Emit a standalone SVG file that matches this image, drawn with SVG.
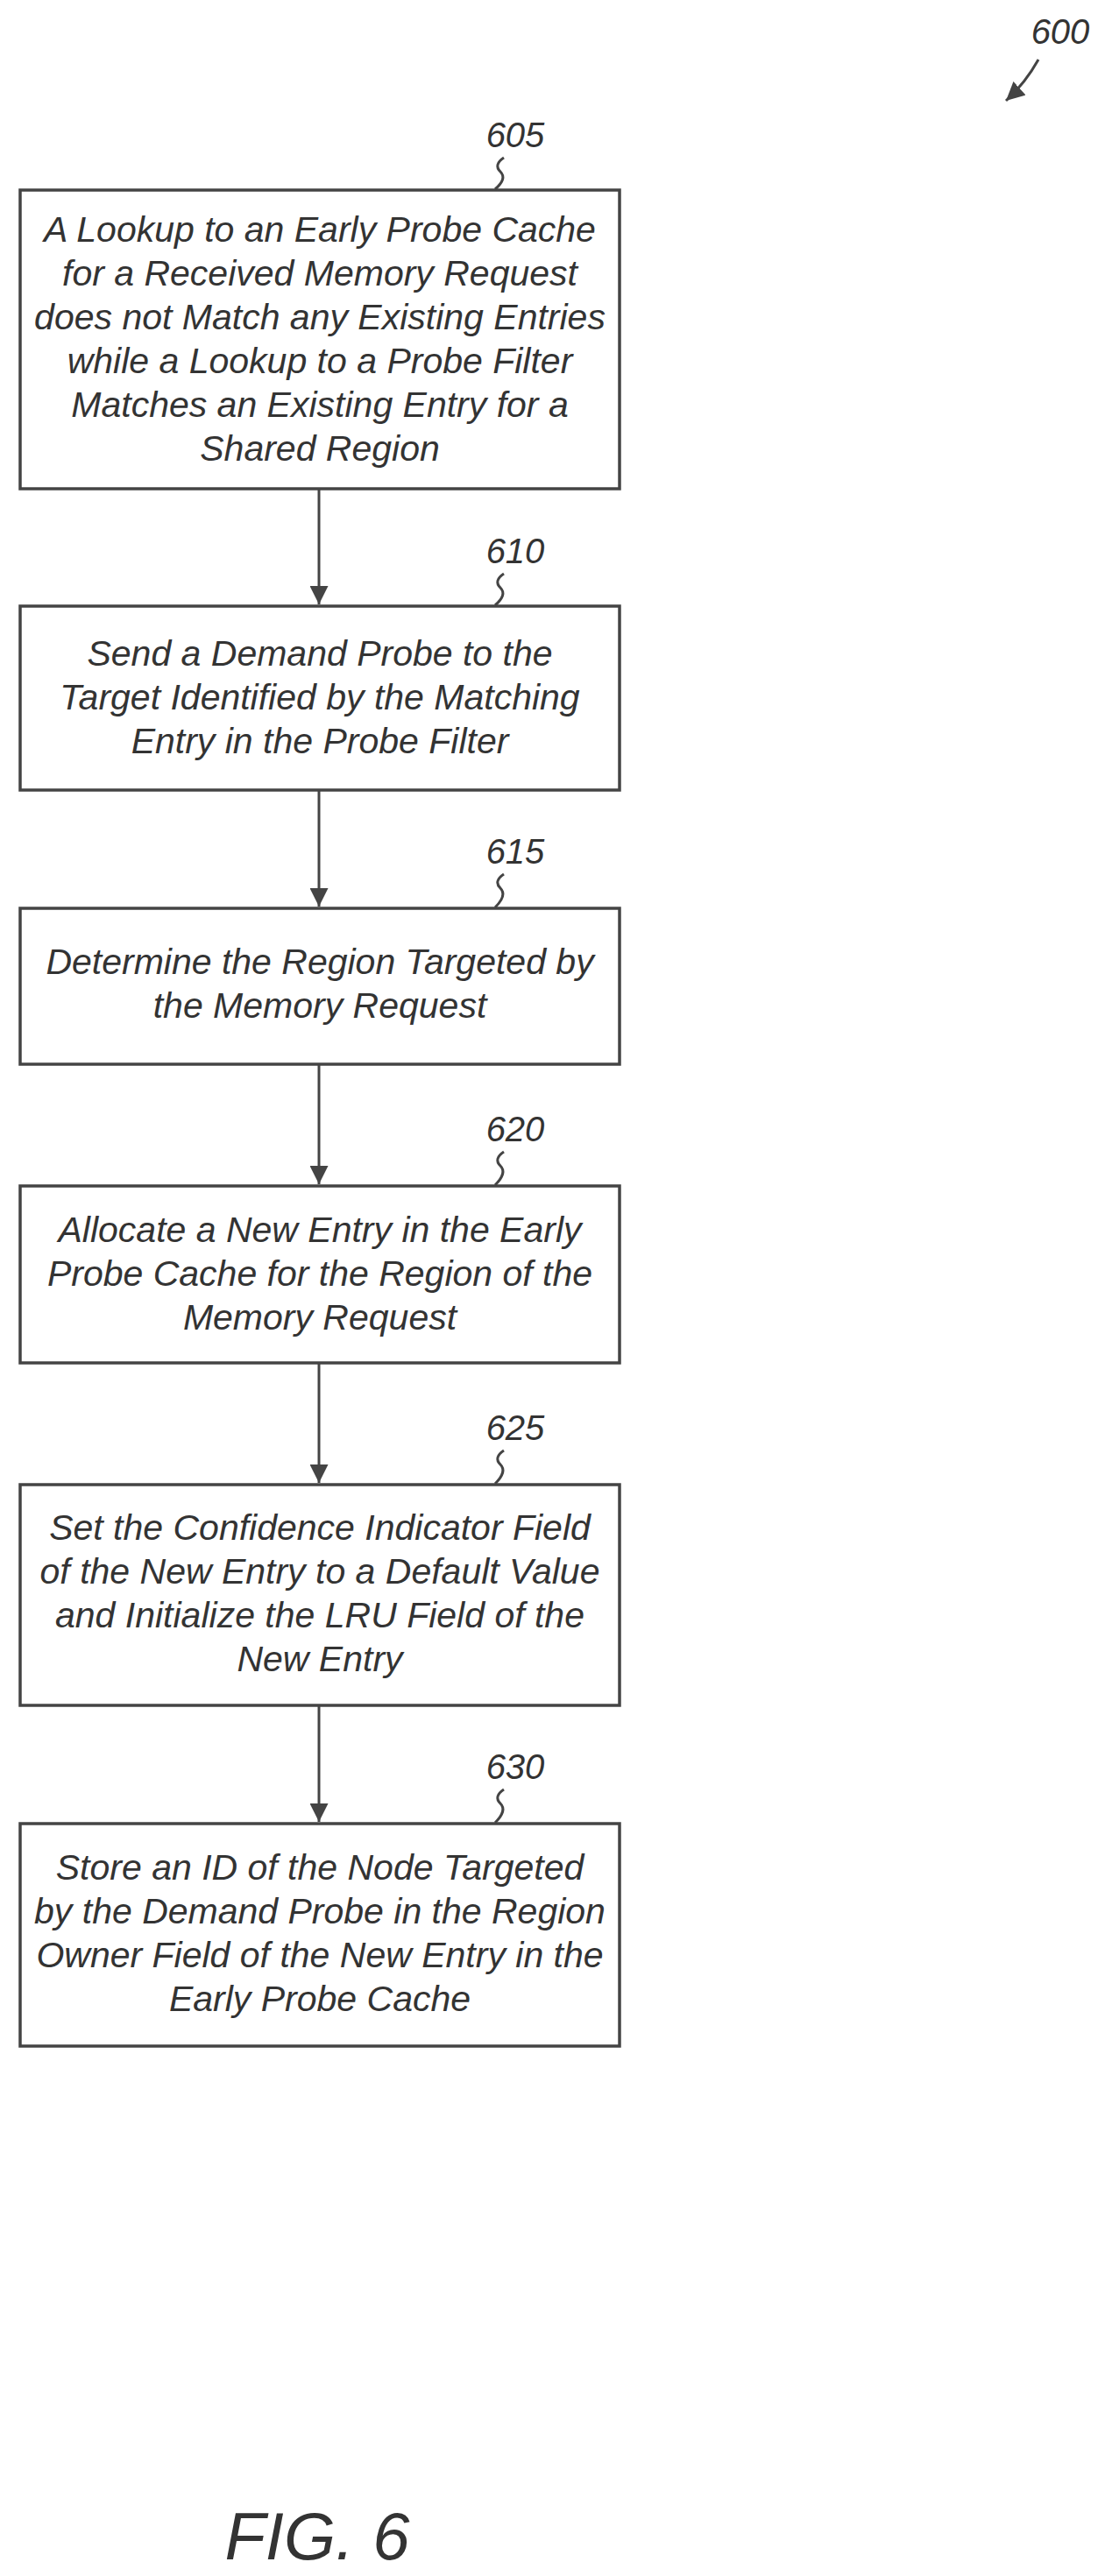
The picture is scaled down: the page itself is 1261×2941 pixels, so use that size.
<svg xmlns="http://www.w3.org/2000/svg" width="1261" height="2941" viewBox="0 0 1261 2941">
<style>
.b{fill:#fff;stroke:#444;stroke-width:3.5}
.t{font-family:"Liberation Sans",Arial,sans-serif;font-style:italic;font-size:41px;fill:#333;text-anchor:middle}
.l{font-family:"Liberation Sans",Arial,sans-serif;font-style:italic;font-size:40px;fill:#333;text-anchor:middle}
.c{fill:none;stroke:#444;stroke-width:3}
</style>
<defs><marker id="a" viewBox="0 0 10 10" refX="10" refY="5" markerWidth="7" markerHeight="7" orient="auto"><path d="M0,0L10,5L0,10z" fill="#444"/></marker></defs>
<rect width="1261" height="2941" fill="#fff"/>
<g id="ref600"><text class="l" x="1210" y="50">600</text><path class="c" d="M1185,68 Q1170,95 1148,115" marker-end="url(#a)"/></g>
<g id="connectors">
<line class="c" x1="364" y1="558" x2="364" y2="690" marker-end="url(#a)"/>
<line class="c" x1="364" y1="902" x2="364" y2="1035" marker-end="url(#a)"/>
<line class="c" x1="364" y1="1215" x2="364" y2="1352" marker-end="url(#a)"/>
<line class="c" x1="364" y1="1556" x2="364" y2="1693" marker-end="url(#a)"/>
<line class="c" x1="364" y1="1947" x2="364" y2="2080" marker-end="url(#a)"/>
</g>
<g id="n605"><rect class="b" x="23" y="217" width="684" height="341"/>
<text class="l" x="588" y="168">605</text><path class="c" d="M575,180 q-12,8 -4,16 q8,8 -6,20"/>
<text class="t" x="365" y="276">A Lookup to an Early Probe Cache</text>
<text class="t" x="365" y="326">for a Received Memory Request</text>
<text class="t" x="365" y="376">does not Match any Existing Entries</text>
<text class="t" x="365" y="426">while a Lookup to a Probe Filter</text>
<text class="t" x="365" y="476">Matches an Existing Entry for a</text>
<text class="t" x="365" y="526">Shared Region</text></g>
<g id="n610"><rect class="b" x="23" y="692" width="684" height="210"/>
<text class="l" x="588" y="643">610</text><path class="c" d="M575,655 q-12,8 -4,16 q8,8 -6,20"/>
<text class="t" x="365" y="760">Send a Demand Probe to the</text>
<text class="t" x="365" y="810">Target Identified by the Matching</text>
<text class="t" x="365" y="860">Entry in the Probe Filter</text></g>
<g id="n615"><rect class="b" x="23" y="1037" width="684" height="178"/>
<text class="l" x="588" y="986">615</text><path class="c" d="M575,998 q-12,8 -4,16 q8,8 -6,22"/>
<text class="t" x="365" y="1112">Determine the Region Targeted by</text>
<text class="t" x="365" y="1162">the Memory Request</text></g>
<g id="n620"><rect class="b" x="23" y="1354" width="684" height="202"/>
<text class="l" x="588" y="1303">620</text><path class="c" d="M575,1315 q-12,8 -4,16 q8,8 -6,22"/>
<text class="t" x="365" y="1418">Allocate a New Entry in the Early</text>
<text class="t" x="365" y="1468">Probe Cache for the Region of the</text>
<text class="t" x="365" y="1518">Memory Request</text></g>
<g id="n625"><rect class="b" x="23" y="1695" width="684" height="252"/>
<text class="l" x="588" y="1644">625</text><path class="c" d="M575,1656 q-12,8 -4,16 q8,8 -6,22"/>
<text class="t" x="365" y="1758">Set the Confidence Indicator Field</text>
<text class="t" x="365" y="1808">of the New Entry to a Default Value</text>
<text class="t" x="365" y="1858">and Initialize the LRU Field of the</text>
<text class="t" x="365" y="1908">New Entry</text></g>
<g id="n630"><rect class="b" x="23" y="2082" width="684" height="254"/>
<text class="l" x="588" y="2031">630</text><path class="c" d="M575,2043 q-12,8 -4,16 q8,8 -6,22"/>
<text class="t" x="365" y="2146">Store an ID of the Node Targeted</text>
<text class="t" x="365" y="2196">by the Demand Probe in the Region</text>
<text class="t" x="365" y="2246">Owner Field of the New Entry in the</text>
<text class="t" x="365" y="2296">Early Probe Cache</text></g>
<text x="362" y="2922" style="font-family:'Liberation Sans',Arial,sans-serif;font-style:italic;font-size:76px;fill:#333;text-anchor:middle">FIG. 6</text>
</svg>
